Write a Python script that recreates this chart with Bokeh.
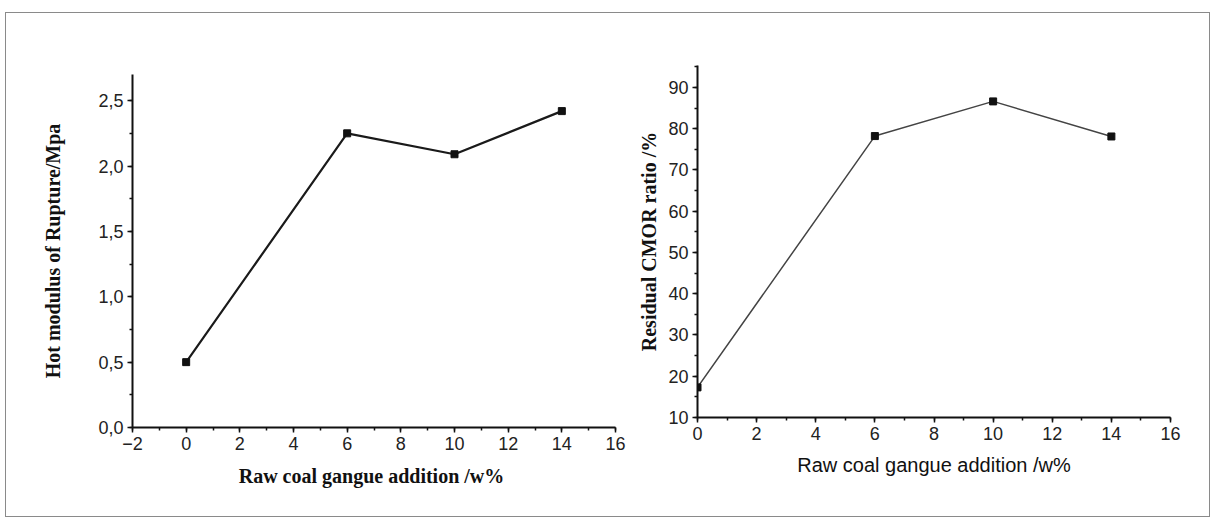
from bokeh.plotting import figure
from bokeh.layouts import row
from bokeh.models import SingleIntervalTicker, CustomJSTickFormatter, Range1d
from bokeh.embed import file_html
from bokeh.resources import INLINE

# ---- data ----
addition = [0, 6, 10, 14]
hot_mor = [0.50, 2.25, 2.09, 2.42]
residual_cmor = [17.3, 78.2, 86.6, 78.1]

left_xlabel = "Raw  coal gangue addition /w%"
left_ylabel = "Hot modulus of Rupture/Mpa"
right_xlabel = "Raw coal gangue addition /w%"
right_ylabel = "Residual CMOR ratio /%"

SANS = "Liberation Sans"
SERIF = "Liberation Serif"


def style_axes(p, lw):
    for ax in (p.xaxis[0], p.yaxis[0]):
        ax.axis_line_width = lw
        ax.axis_line_color = "#111111"
        ax.major_tick_line_color = "#111111"
        ax.minor_tick_line_color = "#111111"
        ax.major_tick_line_width = 1.5
        ax.minor_tick_line_width = 1.5
        ax.major_tick_in = 0
        ax.major_tick_out = 5
        ax.minor_tick_in = 0
        ax.minor_tick_out = 3
        ax.major_label_text_font = SANS
        ax.major_label_text_font_size = "18px"
        ax.major_label_text_color = "#222222"
        ax.axis_label_text_color = "#111111"
    p.xgrid.visible = False
    p.ygrid.visible = False
    p.outline_line_color = None


# ---- left chart ----
p1 = figure(width=622, height=503, output_backend="svg", toolbar_location=None,
            x_range=Range1d(-2, 16), y_range=Range1d(0, 2.7),
            min_border_left=126, min_border_right=13,
            min_border_top=61, min_border_bottom=89, frame_align=False)
p1.line(addition, hot_mor, line_color="#1a1a1a", line_width=2.2)
p1.scatter(addition, hot_mor, marker="square", size=7, fill_color="#111111",
           line_color="#111111")
style_axes(p1, 2)
p1.xaxis[0].ticker = SingleIntervalTicker(interval=2, num_minor_ticks=2)
p1.yaxis[0].ticker = SingleIntervalTicker(interval=0.5, num_minor_ticks=2)
p1.yaxis[0].formatter = CustomJSTickFormatter(
    code="return tick.toFixed(1).replace('.', ',');")
p1.xaxis[0].axis_label = left_xlabel
p1.yaxis[0].axis_label = left_ylabel
for ax in (p1.xaxis[0], p1.yaxis[0]):
    ax.axis_label_text_font = SERIF
    ax.axis_label_text_font_style = "bold"
    ax.axis_label_text_font_size = "20px"
p1.xaxis[0].major_label_standoff = 4
p1.xaxis[0].axis_label_standoff = 12
p1.yaxis[0].major_label_standoff = 4
p1.yaxis[0].axis_label_standoff = 31

# ---- right chart ----
p2 = figure(width=581, height=503, output_backend="svg", toolbar_location=None,
            x_range=Range1d(0, 16), y_range=Range1d(10, 95.3),
            min_border_left=69, min_border_right=39,
            min_border_top=52, min_border_bottom=99, frame_align=False)
p2.line(addition, residual_cmor, line_color="#444444", line_width=1.5)
p2.scatter(addition, residual_cmor, marker="square", size=7,
           fill_color="#111111", line_color="#111111")
style_axes(p2, 2)
p2.xaxis[0].ticker = SingleIntervalTicker(interval=2, num_minor_ticks=2)
p2.yaxis[0].ticker = SingleIntervalTicker(interval=10, num_minor_ticks=2)
p2.xaxis[0].axis_label = right_xlabel
p2.yaxis[0].axis_label = right_ylabel
p2.xaxis[0].axis_label_text_font = SANS
p2.xaxis[0].axis_label_text_font_style = "normal"
p2.xaxis[0].axis_label_text_font_size = "20px"
p2.yaxis[0].axis_label_text_font = SERIF
p2.yaxis[0].axis_label_text_font_style = "bold"
p2.yaxis[0].axis_label_text_font_size = "20px"
p2.xaxis[0].major_label_standoff = 4
p2.xaxis[0].axis_label_standoff = 11
p2.yaxis[0].major_label_standoff = 4
p2.yaxis[0].axis_label_standoff = 5

layout = row(p1, p2, styles={"border": "1px solid #8a8a8a",
                             "margin": "12px 0 0 5px"})

open("out.html", "w").write(file_html(layout, INLINE))
